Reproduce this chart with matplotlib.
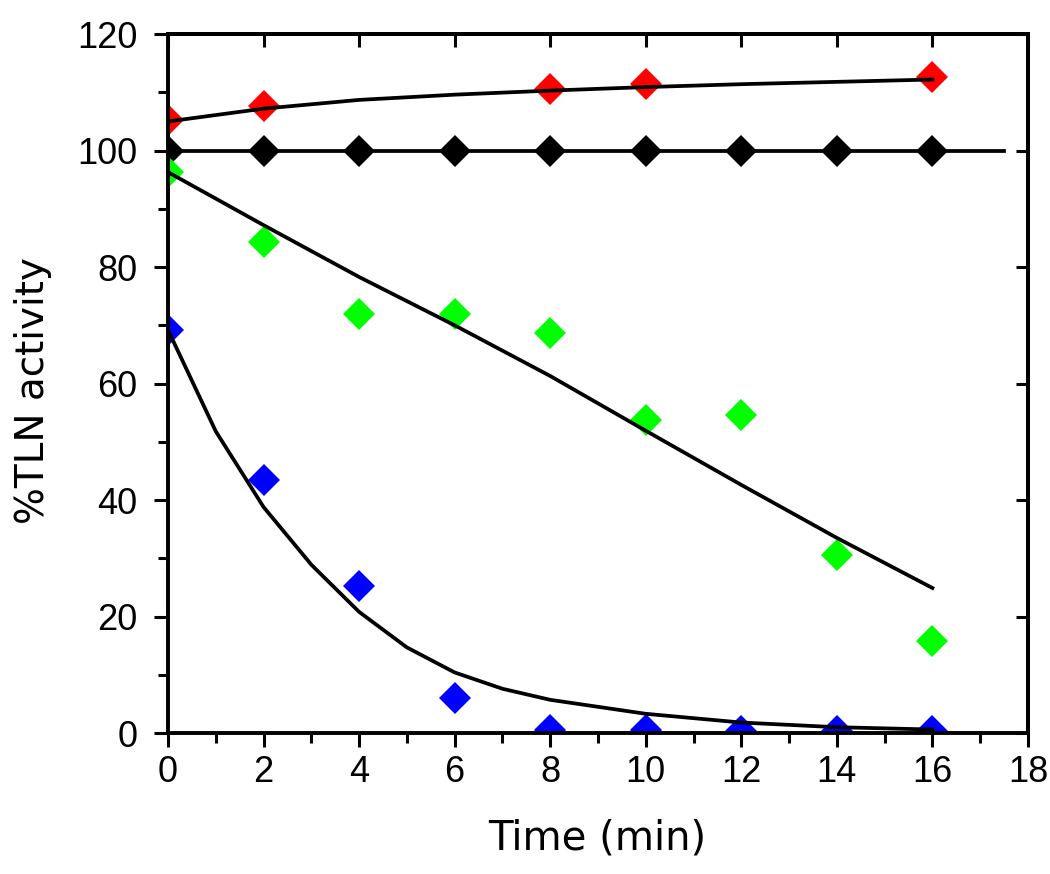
import matplotlib

matplotlib.use("Agg")

import matplotlib.pyplot as plt
from matplotlib import font_manager
from matplotlib.ticker import MultipleLocator

# measured points (% TLN activity vs time in min)
time_pts = [0, 2, 4, 6, 8, 10, 12, 14, 16]
red_time = [0, 2, 8, 10, 16]
red_vals = [105.2, 107.6, 110.6, 111.5, 112.6]
black_vals = [100, 100, 100, 100, 100, 100, 100, 100, 100]
green_vals = [96.3, 84.3, 71.9, 71.9, 68.7, 53.7, 54.6, 30.6, 15.8]
blue_vals = [69.2, 43.4, 25.2, 6.0, 0.5, 0.5, 0.3, 0.3, 0.3]

# fitted curves
red_fit_time = [0, 2, 4, 6, 8, 10, 12, 14, 16]
red_fit_vals = [105.0, 107.2, 108.7, 109.6, 110.3, 110.9, 111.4, 111.8, 112.2]
black_fit_time = [0, 17.5]
black_fit_vals = [100, 100]
green_fit_time = [0, 2, 4, 6, 8, 10, 12, 14, 16]
green_fit_vals = [96.3, 87.2, 78.3, 70.0, 61.3, 51.9, 42.6, 33.5, 24.9]
blue_fit_time = [0, 1, 2, 3, 4, 5, 6, 7, 8, 10, 12, 14, 16]
blue_fit_vals = [69.2, 51.8, 38.8, 28.9, 20.8, 14.7, 10.4, 7.6, 5.7, 3.3, 1.8, 1.0, 0.6]

installed = {f.name for f in font_manager.fontManager.ttflist}
if "Liberation Sans Narrow" in installed:
    tick_font, tick_size = "Liberation Sans Narrow", 30
else:
    tick_font, tick_size = "Liberation Sans", 26
LABEL_FONT = ["DejaVu Sans"]

fig = plt.figure(figsize=(10.5, 8.74), dpi=100)
ax = fig.add_axes([0.16, 0.1613, 0.819, 0.7997])

line_kw = dict(color="black", lw=2.7, zorder=3)
ax.plot(red_fit_time, red_fit_vals, **line_kw)
ax.plot(black_fit_time, black_fit_vals, **line_kw)
ax.plot(green_fit_time, green_fit_vals, **line_kw)
ax.plot(blue_fit_time, blue_fit_vals, **line_kw)

mk_kw = dict(marker="D", ms=16, ls="none", mew=0, zorder=2)
ax.plot(red_time, red_vals, color="#ff0000", **mk_kw)
ax.plot(time_pts, black_vals, color="black", **mk_kw)
ax.plot(time_pts, green_vals, color="#00ff00", **mk_kw)
ax.plot(time_pts, blue_vals, color="#0000ff", **mk_kw)

ax.set_xlim(0, 18)
ax.set_ylim(0, 120)
ax.xaxis.set_major_locator(MultipleLocator(2))
ax.xaxis.set_minor_locator(MultipleLocator(1))
ax.yaxis.set_major_locator(MultipleLocator(20))
ax.yaxis.set_minor_locator(MultipleLocator(10))

for spine in ax.spines.values():
    spine.set_linewidth(2.8)

ax.tick_params(which="major", direction="out", length=10, width=2.2, top=False, right=False,
               labelsize=tick_size, labelfontfamily=tick_font)
ax.tick_params(which="minor", direction="out", length=7.5, width=2.2, top=False, right=False)
ax.tick_params(axis="x", which="major", pad=6)
ax.tick_params(axis="y", which="major", pad=12)

# top and right: inward major ticks only
top = ax.secondary_xaxis("top")
top.set_xticks(range(0, 19, 2))
top.tick_params(direction="in", length=9, width=2.2, labeltop=False)
top.spines["top"].set_linewidth(2.8)
right = ax.secondary_yaxis("right")
right.set_yticks(range(0, 121, 20))
right.tick_params(direction="in", length=9, width=2.2, labelright=False)
right.spines["right"].set_linewidth(2.8)

ax.set_xlabel("Time (min)", family=LABEL_FONT, fontsize=29)
ax.set_ylabel("%TLN activity", family=LABEL_FONT, fontsize=28)
ax.xaxis.set_label_coords(0.499, -0.122)
ax.yaxis.set_label_coords(-0.135, 0.49)

fig.savefig("out.png", dpi=100)
